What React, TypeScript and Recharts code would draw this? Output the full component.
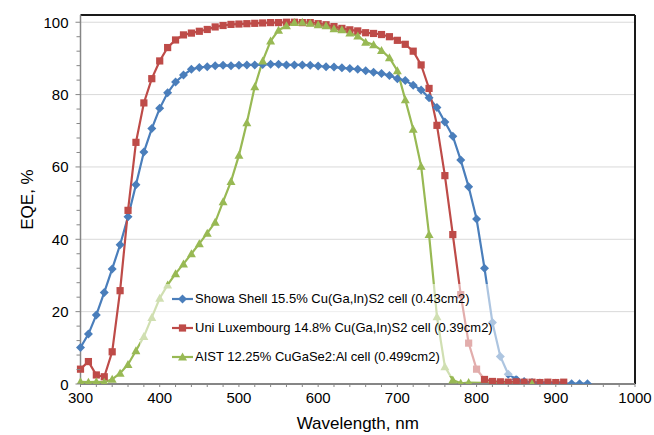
import React from 'react';
import { LineChart, Line, XAxis, YAxis, ReferenceLine, Legend } from 'recharts';

// wavelength (nm) and EQE (%) per cell
const showaNm = [300, 310, 320, 330, 340, 350, 360, 370, 380, 390, 400, 410, 420, 430, 440, 450, 460, 470, 480, 490, 500, 510, 520, 530, 540, 550, 560, 570, 580, 590, 600, 610, 620, 630, 640, 650, 660, 670, 680, 690, 700, 710, 720, 730, 740, 750, 760, 770, 780, 790, 800, 810, 820, 830, 840, 850, 860, 870, 880, 890, 900, 910, 920, 930, 940];
const showaEqe = [10.1, 13.8, 19.1, 25.3, 31.8, 38.5, 46.2, 55.1, 64.1, 70.6, 76.2, 80.5, 83.5, 85.4, 87.0, 87.5, 87.7, 88.0, 88.1, 88.0, 88.1, 88.2, 88.2, 88.3, 88.4, 88.4, 88.2, 88.2, 88.2, 88.1, 87.9, 87.7, 87.6, 87.4, 87.2, 87.0, 86.6, 86.2, 85.8, 85.3, 84.4, 83.9, 82.6, 81.3, 79.1, 76.4, 72.4, 68.5, 61.9, 54.5, 45.6, 32.0, 17.0, 7.6, 2.7, 1.3, 0.7, 0.4, 0.3, 0.2, 0.2, 0.1, 0.1, 0.1, 0.1];

const luxNm = [300, 310, 320, 330, 340, 350, 360, 370, 380, 390, 400, 410, 420, 430, 440, 450, 460, 470, 480, 490, 500, 510, 520, 530, 540, 550, 560, 570, 580, 590, 600, 610, 620, 630, 640, 650, 660, 670, 680, 690, 700, 710, 720, 730, 740, 750, 760, 770, 780, 790, 800, 810, 820, 830, 840, 850, 860, 870, 880, 890, 900, 910];
const luxEqe = [4.1, 6.2, 2.5, 2.0, 8.9, 25.8, 48.0, 66.8, 77.7, 84.4, 89.3, 93.0, 95.1, 96.5, 97.0, 97.5, 98.0, 98.7, 99.1, 99.4, 99.5, 99.6, 99.7, 99.8, 99.9, 99.9, 100.0, 100.0, 99.9, 99.9, 99.6, 99.3, 98.8, 98.3, 97.9, 97.6, 97.1, 96.9, 96.6, 96.0, 95.0, 93.9, 92.0, 88.2, 81.7, 71.5, 57.6, 41.3, 24.7, 11.3, 4.1, 1.3, 0.7, 0.6, 0.5, 0.6, 0.5, 0.5, 0.4, 0.5, 0.4, 0.5];

const aistNm = [300, 310, 320, 330, 340, 350, 360, 370, 380, 390, 400, 410, 420, 430, 440, 450, 460, 470, 480, 490, 500, 510, 520, 530, 540, 550, 560, 570, 580, 590, 600, 610, 620, 630, 640, 650, 660, 670, 680, 690, 700, 710, 720, 730, 740, 750, 760, 770, 780, 790, 870];
const aistEqe = [0.6, 0.5, 0.6, 0.5, 1.3, 3.0, 5.4, 9.2, 13.1, 18.4, 23.7, 27.4, 30.5, 33.2, 36.0, 38.8, 41.7, 44.7, 50.4, 56.0, 63.2, 72.2, 82.2, 89.3, 94.8, 97.8, 99.0, 99.9, 100.0, 99.7, 99.3, 99.0, 98.2, 97.9, 97.0, 96.2, 94.5, 93.8, 92.2, 90.2, 86.6, 78.6, 70.4, 60.2, 41.3, 18.6, 4.8, 1.1, 0.2, 0.4, 0.1];

const seriesNames = [
  'Showa Shell 15.5% Cu(Ga,In)S2 cell (0.43cm2)',
  'Uni Luxembourg 14.8% Cu(Ga,In)S2 cell (0.39cm2)',
  'AIST 12.25% CuGaSe2:Al cell (0.499cm2)',
];

const xLabels = [300, 400, 500, 600, 700, 800, 900, 1000];
const xTicks = [300, 320, 340, 360, 380, 400, 420, 440, 460, 480, 500, 520, 540, 560, 580, 600, 620, 640, 660, 680, 700, 720, 740, 760, 780, 800, 820, 840, 860, 880, 900, 920, 940, 960, 980, 1000];
const yLabels = [0, 20, 40, 60, 80, 100];
const yTicks = [0, 4, 8, 12, 16, 20, 24, 28, 32, 36, 40, 44, 48, 52, 56, 60, 64, 68, 72, 76, 80, 84, 88, 92, 96, 100];

const toPoints = (nm: number[], eqe: number[]) => nm.map((w, i) => ({ nm: w, eqe: eqe[i] }));
const showaData = toPoints(showaNm, showaEqe);
const luxData = toPoints(luxNm, luxEqe);
const aistData = toPoints(aistNm, aistEqe);

const BLUE = '#4a7ebb';
const RED = '#be4b48';
const GREEN = '#98b954';
const FONT = '"Liberation Sans", Arial, sans-serif';

const diamond = (cx: number, cy: number, fill: string, key?: string) => (
  <polygon key={key} points={`${cx},${cy - 4.5} ${cx + 4.5},${cy} ${cx},${cy + 4.5} ${cx - 4.5},${cy}`} fill={fill} />
);
const square = (cx: number, cy: number, fill: string, key?: string) => (
  <rect key={key} x={cx - 3.6} y={cy - 3.6} width={7.2} height={7.2} fill={fill} />
);
const triangle = (cx: number, cy: number, fill: string, key?: string) => (
  <polygon key={key} points={`${cx},${cy - 4.5} ${cx + 4.5},${cy + 3.5} ${cx - 4.5},${cy + 3.5}`} fill={fill} />
);

const shapes = [diamond, square, triangle];
const colors = [BLUE, RED, GREEN];

const makeDot = (idx: number) => (p: any) => shapes[idx](p.cx, p.cy, colors[idx], `m${idx}-${p.index}`);

const XTick = ({ x, y, payload }: any) => (
  <g>
    <line x1={x} x2={x} y1={y} y2={y + 3} stroke="#868686" />
    {xLabels.includes(payload.value) && (
      <text x={x} y={y + 19} textAnchor="middle" fontSize={15} fontFamily={FONT} fill="#000">
        {payload.value}
      </text>
    )}
  </g>
);

const YTick = ({ x, y, payload }: any) => {
  const major = yLabels.includes(payload.value);
  return (
    <g>
      <line x1={x - (major ? 5 : 4)} x2={x} y1={y} y2={y} stroke="#868686" />
      {major && (
        <text x={x - 12} y={y + 5.5} textAnchor="end" fontSize={15} fontFamily={FONT} fill="#000">
          {payload.value}
        </text>
      )}
    </g>
  );
};

const renderLegend = () => (
  <div style={{ width: 380, height: 92, background: 'rgba(255,255,255,0.55)', fontFamily: FONT, fontSize: 13, color: '#000' }}>
    {seriesNames.map((name, i) => (
      <div key={name} style={{ height: 29, display: 'flex', alignItems: 'center', whiteSpace: 'nowrap' }}>
        <svg width={56} height={12} style={{ flex: 'none' }}>
          <line x1={32} x2={53} y1={6} y2={6} stroke={colors[i]} strokeWidth={2.2} />
          {shapes[i](42.5, 6, colors[i])}
        </svg>
        <span style={{ marginLeft: -1 }}>{name}</span>
      </div>
    ))}
  </div>
);

export default function App() {
  return (
    <div style={{ width: 654, height: 435, position: 'relative', background: '#fff' }}>
      <style>{'body{margin:0}'}</style>
      <LineChart width={654} height={435} data={showaData} margin={{ top: 15, right: 19, bottom: 0, left: 0 }}>
        <XAxis
          dataKey="nm"
          type="number"
          domain={[300, 1000]}
          ticks={xTicks}
          interval={0}
          tickSize={0}
          tickMargin={0}
          tickLine={false}
          tick={<XTick />}
          height={51}
          stroke="#868686"
          strokeWidth={2}
          allowDuplicatedCategory={false}
          label={{ value: 'Wavelength, nm', position: 'insideBottom', offset: 6, fontSize: 17, fontFamily: FONT, fill: '#000' }}
        />
        <YAxis
          type="number"
          domain={[0, 102]}
          ticks={yTicks}
          interval={0}
          tickSize={0}
          tickMargin={0}
          tickLine={false}
          tick={<YTick />}
          width={80.5}
          stroke="#868686"
          strokeWidth={1.5}
          allowDataOverflow
          label={{ value: 'EQE, %', angle: -90, position: 'insideLeft', offset: 27, fontSize: 17, fontFamily: FONT, fill: '#000', style: { textAnchor: 'middle' } }}
        />
        {yLabels.slice(1).map((v) => (
          <ReferenceLine key={v} y={v} stroke="#d9d9d9" strokeWidth={1} />
        ))}
        <ReferenceLine y={102} stroke="#1a1a1a" strokeWidth={2} />
        <ReferenceLine x={1000} stroke="#1a1a1a" strokeWidth={2} />
        <Legend
          layout="horizontal"
          verticalAlign="middle"
          align="center"
          content={renderLegend}
          wrapperStyle={{ left: 140, top: 284, width: 380, height: 92 }}
        />
        <Line data={showaData} dataKey="eqe" name={seriesNames[0]} stroke={BLUE} strokeWidth={2.2} dot={makeDot(0)} activeDot={false} isAnimationActive={false} />
        <Line data={luxData} dataKey="eqe" name={seriesNames[1]} stroke={RED} strokeWidth={2.2} dot={makeDot(1)} activeDot={false} isAnimationActive={false} />
        <Line data={aistData} dataKey="eqe" name={seriesNames[2]} stroke={GREEN} strokeWidth={2.2} dot={makeDot(2)} activeDot={false} isAnimationActive={false} />
      </LineChart>
    </div>
  );
}
